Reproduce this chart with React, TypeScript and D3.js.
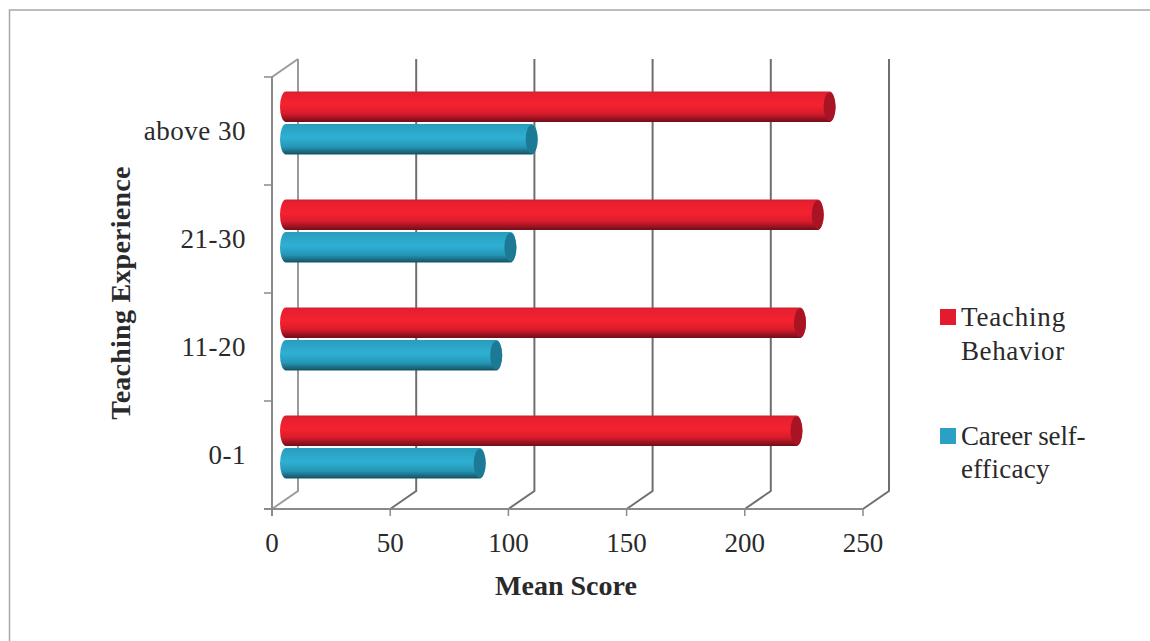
import React from "react";
import * as d3 from "d3";

const categories = ["0-1", "11-20", "21-30", "above 30"];
const teachingBehavior = [221, 222.5, 230, 235];
const careerSelfEfficacy = [87, 94, 100, 109];
const xTicks = [0, 50, 100, 150, 200, 250];

const RED = "#e31b2d";
const BLUE = "#2ba0c4";
const AXIS = "#8a8a8a";
const INK = "#2a2a2a";
const FONT = "'Liberation Serif', 'Times New Roman', serif";

const DEPTH_X = 26;
const DEPTH_Y = -18;
const BAR_INSET = 8;
const BAR_H = 30.5;

const x = d3.scaleLinear().domain([0, 250]).range([272, 863]);
const y = d3.scaleBand<string>().domain(categories).range([509, 77]);

const Bar = ({ value, top, grad, cap }: { value: number; top: number; grad: string; cap: string }) => {
  const x0 = x(0) + BAR_INSET;
  const x1 = x0 + x(value) - x(0);
  const rx = 6;
  const ry = BAR_H / 2;
  const cy = top + ry;
  const d = `M${x0 + rx},${top} L${x1 - rx},${top} A${rx},${ry} 0 0 1 ${x1 - rx},${top + BAR_H} L${x0 + rx},${top + BAR_H} A${rx},${ry} 0 0 1 ${x0 + rx},${top} Z`;
  return (
    <g>
      <path d={d} fill={`url(#${grad})`} />
      <ellipse cx={x1 - rx} cy={cy} rx={rx} ry={ry - 1} fill={cap} />
    </g>
  );
};

export default function App() {
  const yBottom = y.range()[0];
  const yTop = y.range()[1];
  const tickYs = [...categories.map((c) => y(c)! + y.bandwidth()), yTop];

  return (
    <svg
      width={1150}
      height={641}
      style={{ position: "absolute", left: 0, top: 0, background: "#fff" }}
      fontFamily={FONT}
    >
      <defs>
        <linearGradient id="redBar" x1="0" y1="0" x2="0" y2="1">
          <stop offset="0" stopColor="#d02030" />
          <stop offset="0.1" stopColor="#e81f2f" />
          <stop offset="0.45" stopColor="#f5222f" />
          <stop offset="0.72" stopColor="#d81c2c" />
          <stop offset="1" stopColor="#700d1a" />
        </linearGradient>
        <linearGradient id="blueBar" x1="0" y1="0" x2="0" y2="1">
          <stop offset="0" stopColor="#2a9cbc" />
          <stop offset="0.45" stopColor="#2eb0d4" />
          <stop offset="0.75" stopColor="#2696b6" />
          <stop offset="1" stopColor="#14505f" />
        </linearGradient>
      </defs>

      {/* Page frame: left and top edges only */}
      <path d="M9.5,641 V10 H1150" fill="none" stroke="#a8a8a8" strokeWidth={1.5} />

      {/* Back-wall gridlines with their floor segments */}
      <g fill="none" strokeWidth={2}>
        {xTicks.map((t) => (
          <path
            key={t}
            d={`M${x(t)},${yBottom} L${x(t) + DEPTH_X},${yBottom + DEPTH_Y} L${x(t) + DEPTH_X},${yTop + DEPTH_Y}`}
            stroke={t === 0 ? "#9a9a9a" : "#6f6f6f"}
          />
        ))}
        <path d={`M${x(0)},${yTop} L${x(0) + DEPTH_X},${yTop + DEPTH_Y}`} stroke="#9a9a9a" />
      </g>

      {/* Front axes and tick marks */}
      <g stroke={AXIS} strokeWidth={2} fill="none">
        <line x1={x(0)} x2={x(0)} y1={yTop} y2={yBottom + 7} />
        <line x1={x(0) - 8} x2={x(250)} y1={yBottom} y2={yBottom} />
        {xTicks.map((t) => (
          <line key={t} x1={x(t)} x2={x(t)} y1={yBottom} y2={yBottom + 7} strokeWidth={1.5} />
        ))}
        {tickYs.map((ty) => (
          <line key={ty} x1={x(0) - 8} x2={x(0)} y1={ty} y2={ty} strokeWidth={1.5} />
        ))}
      </g>

      {categories.map((c, i) => {
        const band = y(c)!;
        return (
          <g key={c}>
            <Bar value={careerSelfEfficacy[i]} top={band + 47} grad="blueBar" cap="#1c7a97" />
            <Bar value={teachingBehavior[i]} top={band + 14.5} grad="redBar" cap="#a81423" />
          </g>
        );
      })}

      <g fontSize={27} fill={INK} textAnchor="middle">
        {xTicks.map((t) => (
          <text key={t} x={x(t)} y={552}>{t}</text>
        ))}
      </g>
      <g fontSize={27} fill={INK} textAnchor="end" letterSpacing={0.5}>
        {categories.map((c) => (
          <text key={c} x={246} y={y(c)! + y.bandwidth() / 2 + 9}>{c}</text>
        ))}
      </g>

      <text x={566} y={595} fontSize={28} fontWeight="bold" fill={INK} textAnchor="middle">Mean Score</text>
      <text
        transform="translate(130,293) rotate(-90)"
        fontSize={28}
        fontWeight="bold"
        fill={INK}
        textAnchor="middle"
        letterSpacing={0.25}
      >
        Teaching Experience
      </text>

      {/* Legend */}
      <rect x={940} y={309} width={16} height={16} fill={RED} />
      <g fontSize={27} fill={INK}>
        <text x={961} y={326} letterSpacing={0.8}>Teaching</text>
        <text x={961} y={360} letterSpacing={0.6}>Behavior</text>
      </g>
      <rect x={940} y={428} width={16} height={16} fill={BLUE} />
      <g fontSize={27} fill={INK}>
        <text x={961} y={445} letterSpacing={-0.2}>Career self-</text>
        <text x={961} y={478} letterSpacing={0.3}>efficacy</text>
      </g>
    </svg>
  );
}
